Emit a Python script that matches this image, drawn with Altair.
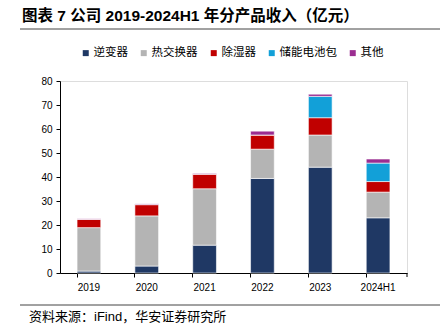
import altair as alt
import pandas as pd

years = ["2019", "2020", "2021", "2022", "2023", "2024H1"]
series = ["逆变器", "热交换器", "除湿器", "储能电池包", "其他"]
colors = ["#1F3864", "#B4B4B4", "#C00000", "#12A0D8", "#9B2D91"]
inverter = [0.8, 2.9, 11.6, 39.4, 44.1, 23.0]
heat_exchanger = [18.1, 20.9, 23.5, 12.2, 13.4, 10.7]
dehumidifier = [3.5, 4.7, 6.1, 5.9, 7.2, 4.4]
battery = [0.0, 0.0, 0.0, 0.0, 8.9, 7.7]
other = [0.2, 0.3, 0.3, 1.6, 0.9, 1.7]

vals = [inverter, heat_exchanger, dehumidifier, battery, other]
rows = []
for si, (s, v) in enumerate(zip(series, vals)):
    for y, x in zip(years, v):
        rows.append({"year": y, "series": s, "value": x, "order": si})
df = pd.DataFrame(rows)

FONT = "Liberation Sans, Noto Sans CJK SC, sans-serif"
W, H = 347, 192

bars = alt.Chart(df).mark_bar(stroke="white", strokeWidth=0.6).encode(
    x=alt.X("year:N", sort=years, title=None,
            scale=alt.Scale(paddingInner=0.59, paddingOuter=0.295),
            axis=alt.Axis(labelAngle=0, bandPosition=0, tickSize=4, labelPadding=5,
                          labelFontSize=10, labelColor="black", domainColor="black",
                          tickColor="black", labelFont=FONT)),
    y=alt.Y("value:Q", title=None,
            scale=alt.Scale(domain=[0, 80], nice=False),
            axis=alt.Axis(values=list(range(0, 81, 10)), tickSize=4, labelPadding=4,
                          grid=False, labelFontSize=10, labelColor="black",
                          domainColor="black", tickColor="black", labelFont=FONT)),
    color=alt.Color("series:N", sort=series,
                    scale=alt.Scale(domain=series, range=colors),
                    legend=alt.Legend(title=None, orient="none", direction="horizontal",
                                      legendX=20, legendY=-34, symbolType="square",
                                      symbolSize=36, symbolStrokeWidth=0,
                                      labelFontSize=11.5, labelFont=FONT,
                                      labelColor="black", columnPadding=10,
                                      labelOffset=2)),
    order=alt.Order("order:Q"),
)

end_tick = alt.Chart(pd.DataFrame({"a": [0]})).mark_rule(color="black").encode(
    x=alt.value(W), y=alt.value(H), y2=alt.value(H + 4))

title = alt.Chart(pd.DataFrame({"t": ["图表 7 公司 2019-2024H1 年分产品收入（亿元）"]})).mark_text(
    align="left", baseline="middle", fontSize=15.5, fontWeight="bold", font=FONT, color="black"
).encode(text="t:N", x=alt.value(-38), y=alt.value(-65))

top_line = alt.Chart(pd.DataFrame({"a": [0]})).mark_rule(color="#444444", strokeWidth=1).encode(
    x=alt.value(-40), x2=alt.value(380), y=alt.value(-52))

bottom_line = alt.Chart(pd.DataFrame({"a": [0]})).mark_rule(color="#444444", strokeWidth=1).encode(
    x=alt.value(-40), x2=alt.value(380), y=alt.value(224))

source = alt.Chart(pd.DataFrame({"t": ["资料来源：iFind，华安证券研究所"]})).mark_text(
    align="left", baseline="middle", fontSize=13, font=FONT, color="black"
).encode(text="t:N", x=alt.value(-31), y=alt.value(236))

chart = alt.layer(bars, end_tick, title, top_line, bottom_line, source).properties(
    width=W, height=H,
    autosize=alt.AutoSizeParams(type="none"),
    padding={"left": 60, "top": 81, "right": 33, "bottom": 54},
).configure_view(stroke=None).configure(background="white")

chart.save("out.html", embed_options={"renderer": "svg", "actions": False})
